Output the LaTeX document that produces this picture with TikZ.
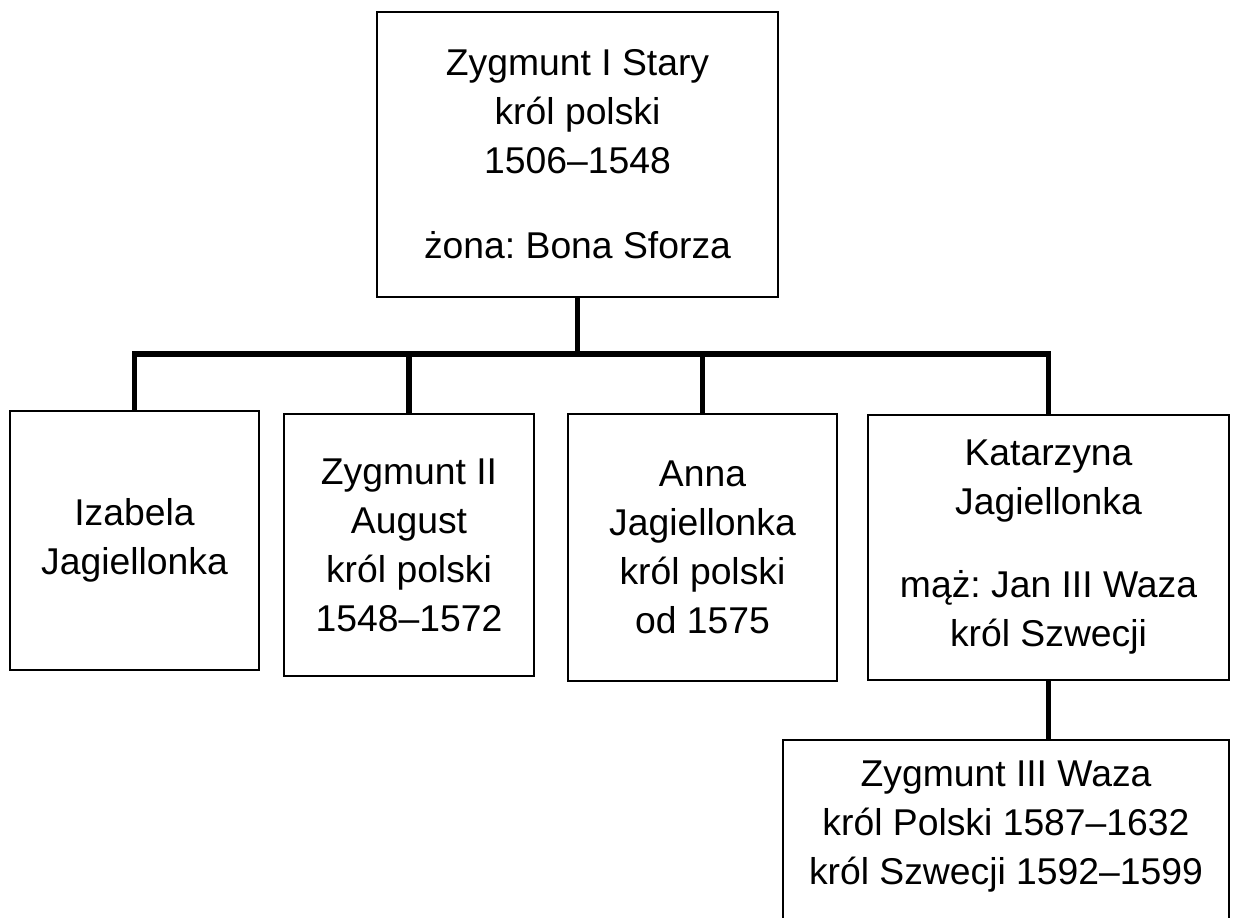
\documentclass[tikz,border=0pt]{standalone}
\usepackage{fontspec}
\setmainfont{Liberation Sans}
\usetikzlibrary{calc,positioning}

\begin{document}
\begin{tikzpicture}[x=1pt,y=-1pt,
  box/.style={draw,line width=2.4pt,align=center,inner sep=0pt,
    font=\fontsize{37.3}{49}\selectfont\frenchspacing},
  link/.style={line width=5.7pt}]
  \clip (0,0) rectangle (1234,918);
  % rodzice
  \node[box,minimum width=401,minimum height=285] (Z1) at (577.5,154.5)
    {Zygmunt I Stary\\król polski\\1506–1548\\[36pt]żona: Bona Sforza};
  % dzieci
  \node[box,minimum width=249,minimum height=259] (IZ) at (134.5,540.5)
    {Izabela\\Jagiellonka};
  \node[box,minimum width=250,minimum height=262] (Z2) at (409,545)
    {Zygmunt II\\August\\król polski\\1548–1572};
  \node[box,minimum width=269,minimum height=267] (AN) at (702.5,547.5)
    {Anna\\Jagiellonka\\król polski\\od 1575};
  \node[box,minimum width=361,minimum height=265] (KA) at (1048.5,547.5)
    {Katarzyna\\Jagiellonka\\[34pt]mąż: Jan III Waza\\król Szwecji};
  % wnuk
  \node[box,minimum width=446,minimum height=260,anchor=north] (Z3) at (1006,739) {};
  \node[box,draw=none,anchor=north] (Z3t) at (1006,760)
    {Zygmunt III Waza\\król Polski 1587–1632\\król Szwecji 1592–1599};
  % linie
  \draw[link] (Z1.south) -- ++(0,56) coordinate (bus);
  \draw[link] (IZ.north) |- (bus) -| (KA.north);
  \draw[link] (Z2.north) -- (Z2.north |- bus);
  \draw[link] (AN.north) -- (AN.north |- bus);
  \draw[link] (KA.south) -- (KA.south |- Z3.north);
\end{tikzpicture}
\end{document}
